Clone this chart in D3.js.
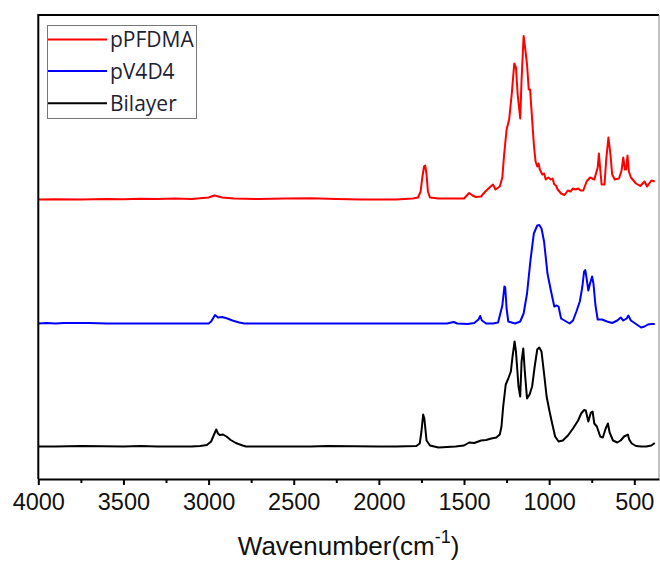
<!DOCTYPE html>
<html>
<head>
<meta charset="utf-8">
<script src="https://cdn.jsdelivr.net/npm/d3@7"></script>
<style>
  body { margin: 0; background: #fff; }
</style>
</head>
<body>
<div id="chart"></div>
<script>
// series names (legend order) and vertical stacking offsets
const seriesNames = ["pPFDMA", "pV4D4", "Bilayer"];
const seriesOffsets = [2.795, 1.555, 0.325];

// x axis ticks
const majorTicks = [4000, 3500, 3000, 2500, 2000, 1500, 1000, 500];
const minorTicks = [3750, 3250, 2750, 2250, 1750, 1250, 750];

// [wavenumber, absorbance]
const pPFDMA = [
    [4000, 0], [3900, 0.003], [3750, 0], [3600, 0.005], [3500, 0.002], [3400, 0.008], [3300, 0.004],
    [3200, 0.01], [3100, 0.006], [3000, 0.02], [2965, 0.04], [2920, 0.02], [2850, 0.01], [2700, 0.005],
    [2550, 0.01], [2400, 0.012], [2250, 0.004], [2100, 0], [1900, 0], [1800, 0.01], [1770, 0.02],
    [1755, 0.08], [1745, 0.22], [1735, 0.33], [1728, 0.34], [1720, 0.25], [1712, 0.08], [1700, 0.02],
    [1650, 0.01], [1500, 0.01], [1470, 0.065], [1450, 0.04], [1430, 0.025], [1400, 0.03], [1375, 0.08],
    [1350, 0.12], [1330, 0.15], [1315, 0.1], [1290, 0.13], [1275, 0.22], [1265, 0.44], [1250, 0.7],
    [1235, 0.8], [1220, 1.05], [1205, 1.36], [1195, 1.32], [1185, 1.05], [1170, 0.81], [1162, 1.2],
    [1150, 1.635], [1140, 1.5], [1130, 1.35], [1120, 1.1], [1112, 1.1], [1100, 0.8], [1090, 0.55],
    [1080, 0.38], [1070, 0.33], [1062, 0.36], [1055, 0.3], [1040, 0.25], [1030, 0.26], [1020, 0.2],
    [1005, 0.22], [990, 0.2], [980, 0.21], [970, 0.15], [960, 0.14], [950, 0.1], [930, 0.06],
    [910, 0.045], [890, 0.09], [875, 0.08], [860, 0.11], [845, 0.1], [830, 0.11], [815, 0.09], [800, 0.09],
    [780, 0.18], [760, 0.22], [735, 0.2], [715, 0.32], [708, 0.46], [700, 0.3], [692, 0.15],
    [675, 0.15], [665, 0.4], [652, 0.62], [640, 0.45], [630, 0.25], [615, 0.2], [590, 0.21],
    [575, 0.29], [565, 0.42], [555, 0.3], [548, 0.3], [540, 0.44], [532, 0.28], [520, 0.22],
    [490, 0.16], [465, 0.135], [440, 0.18], [425, 0.13], [400, 0.19], [380, 0.18]
];

const pV4D4 = [
    [4000, 0], [3950, 0.005], [3900, 0], [3850, 0.006], [3800, 0.004], [3700, 0.005], [3600, 0],
    [3000, 0], [2985, 0.02], [2962, 0.085], [2945, 0.06], [2920, 0.065], [2890, 0.05], [2860, 0.03],
    [2820, 0.01], [2790, 0], [2200, 0], [1800, 0], [1600, 0], [1560, 0.015], [1540, 0],
    [1480, -0.005], [1440, 0.005], [1415, 0.04], [1405, 0.075], [1395, 0.03], [1370, 0], [1330, 0],
    [1300, 0.01], [1275, 0.18], [1263, 0.37], [1258, 0.36], [1250, 0.15], [1240, 0.02], [1200, 0],
    [1170, 0.02], [1150, 0.1], [1130, 0.3], [1110, 0.63], [1090, 0.9], [1070, 0.98], [1058, 0.985],
    [1045, 0.95], [1030, 0.82], [1010, 0.5], [990, 0.33], [970, 0.17], [955, 0.18], [945, 0.17],
    [930, 0.05], [900, 0.02], [880, 0], [860, 0.03], [840, 0.12], [820, 0.22], [805, 0.37],
    [795, 0.52], [788, 0.535], [780, 0.45], [770, 0.33], [760, 0.4], [748, 0.47], [740, 0.4],
    [728, 0.18], [715, 0.04], [690, 0.04], [660, 0.02], [630, 0.005], [600, 0.03], [580, 0.06],
    [565, 0.03], [545, 0.05], [535, 0.08], [520, 0.03], [490, -0.005], [460, -0.04], [440, -0.03],
    [420, -0.01], [400, -0.005], [380, -0.005]
];

const bilayer = [
    [4000, 0], [3900, 0], [3750, 0.005], [3500, 0], [3400, 0.005], [3300, 0], [3100, 0],
    [3050, 0.005], [3010, 0.015], [2985, 0.05], [2968, 0.12], [2955, 0.17], [2945, 0.13],
    [2935, 0.115], [2915, 0.12], [2895, 0.1], [2870, 0.065], [2840, 0.035], [2800, 0.01], [2780, 0],
    [2400, 0], [2300, 0.005], [2000, 0], [1900, 0], [1780, 0.005], [1760, 0.03], [1750, 0.15],
    [1740, 0.32], [1733, 0.28], [1720, 0.06], [1700, 0.01], [1650, -0.01], [1550, 0], [1500, 0.01],
    [1470, 0.04], [1440, 0.035], [1400, 0.06], [1370, 0.065], [1340, 0.08], [1310, 0.09],
    [1290, 0.12], [1280, 0.2], [1270, 0.4], [1255, 0.62], [1240, 0.68], [1225, 0.75], [1215, 0.9],
    [1203, 1.05], [1195, 0.95], [1180, 0.6], [1170, 0.5], [1162, 0.85], [1152, 0.98], [1143, 0.75],
    [1130, 0.48], [1115, 0.52], [1100, 0.6], [1085, 0.8], [1070, 0.97], [1058, 0.99], [1045, 0.95],
    [1030, 0.73], [1015, 0.5], [1000, 0.37], [985, 0.25], [965, 0.1], [945, 0.05], [920, 0.06],
    [890, 0.11], [860, 0.18], [830, 0.26], [812, 0.33], [795, 0.365], [785, 0.36], [770, 0.25],
    [755, 0.34], [745, 0.35], [735, 0.23], [720, 0.2], [700, 0.1], [685, 0.09], [668, 0.18],
    [655, 0.23], [645, 0.14], [625, 0.06], [600, 0.04], [580, 0.06], [560, 0.1], [548, 0.11],
    [538, 0.12], [530, 0.07], [515, 0.03], [490, 0.005], [460, 0], [430, 0], [400, 0.01],
    [380, 0.035]
];

const seriesData = [pPFDMA, pV4D4, bilayer];
const colors = ["#ff0000", "#0000ff", "#000000"];

const W = 660, H = 561;
const plot = { left: 38.3, right: 659, top: 15, bottom: 479 };

const svg = d3.select("#chart")
    .append("svg")
    .attr("width", W)
    .attr("height", H);

const x = d3.scaleLinear()
    .domain([4000, 355])
    .range([plot.left, plot.right]);

const y = d3.scaleLinear()
    .domain([0, 4.64])
    .range([plot.bottom, plot.top]);

const line = d3.line()
    .x(d => x(d[0]))
    .y(d => y(d[1]));

// spectra
seriesData.forEach((s, i) => {
    svg.append("path")
        .datum(s.map(d => [d[0], d[1] + seriesOffsets[i]]))
        .attr("d", line)
        .attr("fill", "none")
        .attr("stroke", colors[i])
        .attr("stroke-width", 2)
        .attr("stroke-linejoin", "round");
});

// frame: top, left thick; right thin gray
svg.append("line")
    .attr("x1", plot.left).attr("x2", plot.right)
    .attr("y1", plot.top).attr("y2", plot.top)
    .attr("stroke", "#000").attr("stroke-width", 2);
svg.append("line")
    .attr("x1", plot.right).attr("x2", plot.right)
    .attr("y1", plot.top).attr("y2", plot.bottom)
    .attr("stroke", "#888").attr("stroke-width", 1);
svg.append("line")
    .attr("x1", plot.left).attr("x2", plot.left)
    .attr("y1", plot.top - 1).attr("y2", plot.bottom)
    .attr("stroke", "#000").attr("stroke-width", 2);

// minor ticks
svg.append("g")
    .attr("transform", `translate(0,${plot.bottom})`)
    .call(d3.axisBottom(x).tickValues(minorTicks).tickSize(4).tickFormat(""))
    .call(g => g.select(".domain").remove())
    .call(g => g.selectAll(".tick line").attr("stroke-width", 2));

// major ticks + bottom axis line
const xAxis = svg.append("g")
    .attr("transform", `translate(0,${plot.bottom})`)
    .call(d3.axisBottom(x)
        .tickValues(majorTicks)
        .tickFormat(d3.format("d"))
        .tickSize(6)
        .tickSizeOuter(0)
        .tickPadding(8));

xAxis.select(".domain").attr("stroke-width", 2);
xAxis.selectAll(".tick line").attr("stroke-width", 2);
xAxis.selectAll(".tick text")
    .attr("fill", "#111")
    .style("font-family", "'Liberation Sans', Arial, sans-serif")
    .style("font-size", "23.5px");

// axis title
const title = svg.append("text")
    .attr("x", (plot.left + plot.right) / 2)
    .attr("y", 555)
    .attr("text-anchor", "middle")
    .attr("fill", "#111")
    .style("font-family", "'Liberation Sans', Arial, sans-serif")
    .style("font-size", "26px");
title.append("tspan").text("Wavenumber(cm");
title.append("tspan").attr("dy", -12).style("font-size", "18px").text("-1");
title.append("tspan").attr("dy", 12).text(")");

// legend
const legend = svg.append("g");
legend.append("rect")
    .attr("x", 47.5).attr("y", 25.5)
    .attr("width", 149).attr("height", 93)
    .attr("fill", "#fff")
    .attr("stroke", "#777")
    .attr("stroke-width", 1);

const legendY = [39.5, 71, 103.3];
seriesNames.forEach((name, i) => {
    legend.append("line")
        .attr("x1", 48).attr("x2", 107)
        .attr("y1", legendY[i]).attr("y2", legendY[i])
        .attr("stroke", colors[i])
        .attr("stroke-width", 2);
    legend.append("text")
        .attr("x", 110)
        .attr("y", legendY[i])
        .attr("dy", "0.38em")
        .attr("fill", "#1e2233")
        .style("font-family", "'Open Sans', sans-serif")
        .style("font-size", "21px")
        .text(name);
});
</script>
</body>
</html>
